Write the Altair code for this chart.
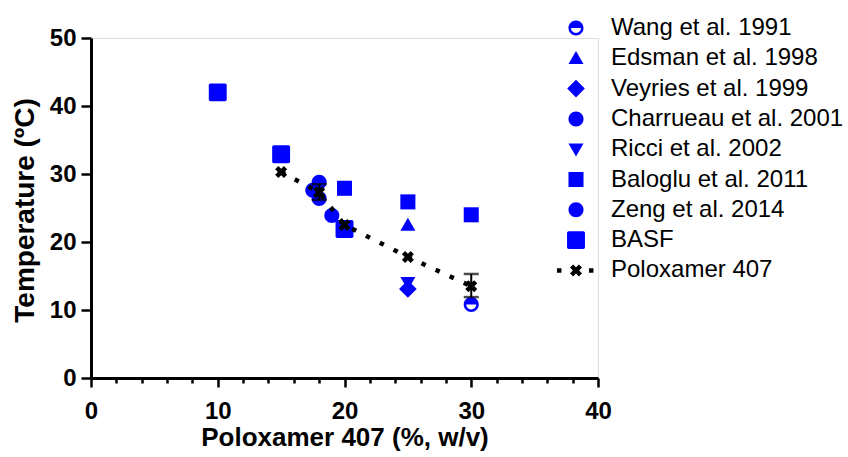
import math
import altair as alt
import pandas as pd

# ---------------- data ----------------
series_order = ["Wang et al. 1991", "Edsman et al. 1998", "Veyries et al. 1999",
                "Charrueau et al. 2001", "Ricci et al. 2002", "Baloglu et al. 2011",
                "Zeng et al. 2014", "BASF", "Poloxamer 407"]

wang_x = [30];            wang_y = [10.8]
edsman_x = [25];          edsman_y = [22.5]
veyries_x = [25];         veyries_y = [13.1]
charrueau_x = [18, 19];   charrueau_y = [28.8, 23.9]
ricci_x = [25];           ricci_y = [14.0]
baloglu_x = [20, 25, 30]; baloglu_y = [27.9, 25.9, 24.0]
zeng_x = [17.5, 18];      zeng_y = [27.6, 26.4]
basf_x = [10, 15, 20];    basf_y = [42.0, 32.9, 21.9]

p407_x = [15, 18, 20, 25, 30]
p407_y = [30.3, 27.3, 22.5, 17.8, 13.5]
p407_lo = [30.3, 26.2, 22.5, 17.8, 11.9]
p407_hi = [30.3, 28.5, 22.5, 17.8, 15.3]

# ---------------- tables ----------------
rows = []
for name, xs, ys in [
    ("Wang et al. 1991", wang_x, wang_y),
    ("Edsman et al. 1998", edsman_x, edsman_y),
    ("Veyries et al. 1999", veyries_x, veyries_y),
    ("Charrueau et al. 2001", charrueau_x, charrueau_y),
    ("Ricci et al. 2002", ricci_x, ricci_y),
    ("Baloglu et al. 2011", baloglu_x, baloglu_y),
    ("Zeng et al. 2014", zeng_x, zeng_y),
    ("BASF", basf_x, basf_y),
]:
    for a, b in zip(xs, ys):
        rows.append({"series": name, "x": a, "y": b})
studies = pd.DataFrame(rows)

p407 = pd.DataFrame({"x": p407_x, "y": p407_y, "lo": p407_lo, "hi": p407_hi,
                     "series": "Poloxamer 407"})
err = p407[p407["lo"] != p407["hi"]]
caps = pd.concat([
    pd.DataFrame({"x": err["x"], "y": err["lo"]}),
    pd.DataFrame({"x": err["x"], "y": err["hi"]}),
])

# ---------------- symbol paths (unit = 8 px at size 256) ----------------
def circle(r):
    return f"M{-r},0A{r},{r} 0 1,0 {r},0A{r},{r} 0 1,0 {-r},0Z"

def xshape(a=0.28, b=0.78, dx=0.0):
    pts = [(-a, -b), (a, -b), (a, -a), (b, -a), (b, a), (a, a), (a, b), (-a, b),
           (-a, a), (-b, a), (-b, -a), (-a, -a)]
    s = 1 / math.sqrt(2)
    rot = [((x - y) * s + dx, (x + y) * s) for x, y in pts]
    return "M" + "L".join(f"{x:.3f},{y:.3f}" for x, y in rot) + "Z"

def sq(h, dx=0.0):
    return f"M{-h+dx},{-h}L{h+dx},{-h}L{h+dx},{h}L{-h+dx},{h}Z"

def rounded_sq(h, r):
    return (f"M{-h+r},{-h}L{h-r},{-h}A{r},{r} 0 0,1 {h},{-h+r}L{h},{h-r}"
            f"A{r},{r} 0 0,1 {h-r},{h}L{-h+r},{h}A{r},{r} 0 0,1 {-h},{h-r}"
            f"L{-h},{-h+r}A{r},{r} 0 0,1 {-h+r},{-h}Z")

R = 0.94
ri = 0.62
half_circle = (f"M{-R},0A{R},{R} 0 0,1 {R},0Z"
               f"M{-R},0A{R},{R} 0 0,0 {R},0L{ri},0A{ri},{ri} 0 0,1 {-ri},0Z")
tri_up = "M0,-0.9L0.94,0.72L-0.94,0.72Z"
tri_down = "M0,0.9L0.94,-0.72L-0.94,-0.72Z"
diamond = "M0,-1.1L1.1,0L0,1.1L-1.1,0Z"
x_mark = xshape()
x_legend = xshape() + sq(0.28, -2.1) + sq(0.28, 1.9)

shape_range = [half_circle, tri_up, diamond, circle(R), tri_down, sq(0.94),
               circle(R), rounded_sq(1.12, 0.22), x_legend]
color_range = ["#0000FF"] * 8 + ["#000000"]

# ---------------- encodings ----------------
FONT = "Liberation Sans"
x_scale = alt.Scale(domain=[0, 40], nice=False, zero=False)
y_scale = alt.Scale(domain=[0, 50], nice=False, zero=False)

x_axis = alt.Axis(
    title="Poloxamer 407 (%, w/v)", values=list(range(0, 41, 2)),
    labelExpr="datum.value % 10 === 0 ? datum.label : ''",
    tickSize={"condition": {"test": "datum.value % 10 === 0", "value": 9}, "value": 5},
    grid=False, domainColor="black", domainWidth=3, tickColor="black", tickWidth=2.5,
    labelFont=FONT, labelFontSize=24, labelFontWeight="bold", labelColor="black",
    labelPadding=12, labelFlush=False,
    titleFont=FONT, titleFontSize=26, titleFontWeight="bold", titleColor="black",
    titleBaseline="alphabetic", titleY=67,
)
y_axis = alt.Axis(
    title="Temperature (ºC)", values=list(range(0, 51, 10)),
    grid=False, domainColor="black", domainWidth=3, tickColor="black", tickWidth=2.5,
    tickSize=10, labelFont=FONT, labelFontSize=24, labelFontWeight="bold",
    labelColor="black", labelPadding=5, labelFlush=False,
    titleFont=FONT, titleFontSize=28, titleFontWeight="bold", titleColor="black",
    titleBaseline="alphabetic", titleX=-58, titleY=172,
)

def X(field="x"):
    return alt.X(f"{field}:Q", scale=x_scale, axis=x_axis)

def Y(field="y"):
    return alt.Y(f"{field}:Q", scale=y_scale, axis=y_axis)

legend = alt.Legend(
    title=None, orient="none", legendX=473, legendY=-22, padding=0,
    labelFont=FONT, labelFontSize=24, labelColor="black", labelOffset=23,
    symbolSize=256, symbolStrokeWidth=0, rowPadding=6.3, labelLimit=400,
)

points = alt.Chart(studies).mark_point(filled=True, size=256, opacity=1).encode(
    x=X(), y=Y(),
    shape=alt.Shape("series:N", scale=alt.Scale(domain=series_order, range=shape_range),
                    legend=legend),
    color=alt.Color("series:N", scale=alt.Scale(domain=series_order, range=color_range),
                    legend=legend),
)

line = alt.Chart(p407).mark_line(color="black", strokeWidth=4.5, strokeDash=[4.5, 11],
                                 strokeCap="butt").encode(x=X(), y=Y())

bars = alt.Chart(err).mark_rule(color="black", strokeWidth=2).encode(
    x=X(), y=Y("lo"), y2="hi:Q")

cap_marks = alt.Chart(caps).mark_tick(color="black", orient="horizontal", size=15,
                                      thickness=2.5).encode(x=X(), y=Y())

xmarks = alt.Chart(p407).mark_point(filled=True, size=256, opacity=1, color="black",
                                    shape=x_mark).encode(x=X(), y=Y())

chart = alt.layer(points, line, bars, cap_marks, xmarks).properties(
    width=507, height=340,
    padding={"left": 91, "top": 38, "right": 250, "bottom": 79},
    autosize="none",
).configure_view(strokeWidth=0).configure(background="white")

chart.save("out.html", embed_options={"renderer": "svg", "actions": False})
